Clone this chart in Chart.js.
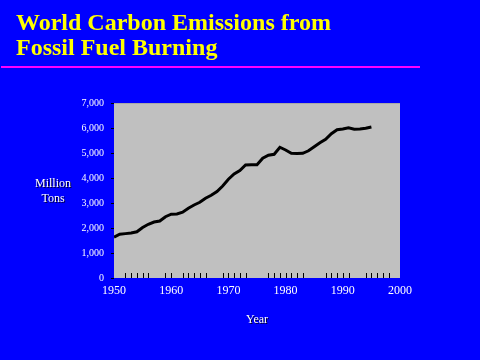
<!DOCTYPE html>
<html>
<head>
<meta charset="utf-8">
<script src="https://cdn.jsdelivr.net/npm/chart.js@4/dist/chart.umd.min.js"></script>
<style>
  html, body { margin:0; padding:0; background:#0000FF; }
  #wrap { position:relative; width:480px; height:360px; background:#0000FF; overflow:hidden; }
  #title { position:absolute; left:16px; top:10px; color:#FFFF00; font-family:"Liberation Serif","Times New Roman",serif; font-weight:bold; font-size:24px; line-height:25px; white-space:nowrap; }
  #rule { position:absolute; left:1px; top:66px; width:419px; height:2px; background:#FF00FF; }
  #ylab { position:absolute; left:23px; top:176px; width:60px; text-align:center; color:#FFFFFF; font-family:"Liberation Serif","Times New Roman",serif; font-size:12px; line-height:15px; text-shadow:1px 1px 0 #000033; }
  #xlab { position:absolute; left:227px; top:312px; width:60px; text-align:center; color:#FFFFFF; font-family:"Liberation Serif","Times New Roman",serif; font-size:12px; line-height:15px; text-shadow:1px 1px 0 #000033; }
  canvas { position:absolute; left:0; top:0; }
</style>
</head>
<body>
<div id="wrap">
  <canvas id="c" width="480" height="360"></canvas>
  <div id="title">World Carbon Emissions from<br>Fossil Fuel Burning</div>
  <div id="rule"></div>
  <div id="ylab">Million<br>Tons</div>
  <div id="xlab">Year</div>
</div>
<script>
const years = [1950,1951,1952,1953,1954,1955,1956,1957,1958,1959,1960,1961,1962,1963,1964,1965,1966,1967,1968,1969,1970,1971,1972,1973,1974,1975,1976,1977,1978,1979,1980,1981,1982,1983,1984,1985,1986,1987,1988,1989,1990,1991,1992,1993,1994,1995];
const emissions = [1630,1750,1775,1800,1850,2020,2150,2240,2280,2450,2550,2560,2630,2790,2920,3030,3190,3310,3460,3680,3950,4160,4300,4520,4530,4530,4790,4910,4950,5230,5120,4990,4980,4990,5090,5250,5410,5550,5770,5930,5960,6010,5950,5960,5990,6040];
const minorTickYears = [1952,1953,1954,1955,1956,1959,1960,1962,1963,1964,1965,1966,1969,1970,1971,1972,1973,1977,1978,1979,1980,1981,1982,1983,1987,1988,1989,1990,1991,1994,1995,1996,1997,1998];
const xTicks = [1950,1960,1970,1980,1990,2000];
const yTicks = [0,1000,2000,3000,4000,5000,6000,7000];

const plotBg = {
  id:'plotBg',
  beforeDraw(chart){
    const {ctx, chartArea:a} = chart;
    ctx.save();
    ctx.fillStyle = '#C0C0C0';
    ctx.fillRect(a.left, a.top, a.right-a.left, a.bottom-a.top);
    ctx.fillStyle = '#A8A8A8';
    ctx.fillRect(a.left, a.top, a.right-a.left, 1);
    ctx.restore();
  }
};
const minorTicks = {
  id:'minorTicks',
  afterDatasetsDraw(chart){
    const {ctx, chartArea:a} = chart;
    const xs = chart.scales.x;
    ctx.save();
    ctx.strokeStyle = '#000000';
    ctx.lineWidth = 1;
    ctx.beginPath();
    minorTickYears.forEach(yr => {
      const px = Math.round(xs.getPixelForValue(yr)) + 0.5;
      ctx.moveTo(px, a.bottom - 5);
      ctx.lineTo(px, a.bottom);
    });
    ctx.stroke();
    ctx.restore();
  }
};

new Chart(document.getElementById('c'), {
  type:'line',
  data:{
    datasets:[{
      data: years.map((y,i)=>({x:y, y:emissions[i]})),
      borderColor:'#000000',
      borderWidth:3,
      pointRadius:0,
      tension:0,
      fill:false
    }]
  },
  options:{
    responsive:false,
    animation:false,
    events:[],
    layout:{ padding:{ top:103, right:80, left:0, bottom:0 } },
    plugins:{ legend:{display:false}, tooltip:{enabled:false}, title:{display:false} },
    scales:{
      x:{
        type:'linear', min:1950, max:2000,
        afterBuildTicks(s){ s.ticks = xTicks.map(v=>({value:v})); },
        afterFit(s){ s.height = 82; },
        grid:{ display:false, drawTicks:false },
        border:{ display:false },
        ticks:{ color:'#FFFFFF', padding:6, maxRotation:0, autoSkip:false,
          font:{ family:'"Liberation Serif", "Times New Roman", serif', size:12 },
          callback:v=>String(v) }
      },
      y:{
        min:0, max:7000,
        afterBuildTicks(s){ s.ticks = yTicks.map(v=>({value:v})); },
        afterFit(s){ s.width = 114; },
        grid:{ drawOnChartArea:false, drawTicks:true, tickLength:3, color:'#000000' },
        border:{ display:false },
        ticks:{ color:'#FFFFFF', padding:7,
          font:{ family:'"Liberation Serif", "Times New Roman", serif', size:10 },
          callback:v=>v.toLocaleString('en-US') }
      }
    }
  },
  plugins:[plotBg, minorTicks]
});
</script>
</body>
</html>
